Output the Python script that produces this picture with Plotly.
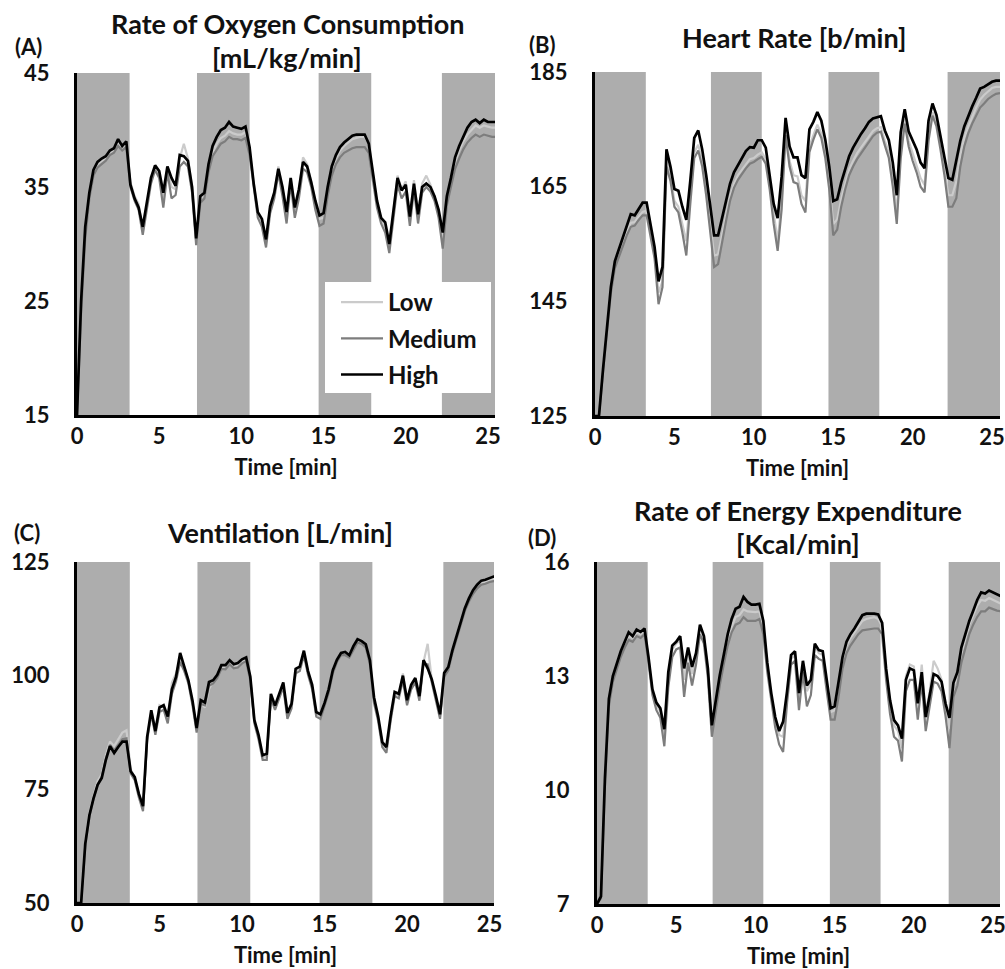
import plotly.graph_objects as go

W, H = 1005, 969

# time grid [min]
T = [i * 0.25 for i in range(103)]

# ---------------- (A) Rate of oxygen consumption [mL/kg/min]
A_HIGH = [15, 25, 31.5, 34.5, 36.5, 37.2, 37.5, 37.7,
          38.2, 38.4, 39.2, 38.6, 39.0, 35.2, 34.0, 33.2,
          31.5, 33.5, 35.8, 36.9, 36.4, 34.5, 36.8, 35.8,
          35.1, 37.8, 37.7, 37.3, 35.0, 30.5, 34.2, 34.5,
          37.0, 38.6, 39.4, 40.0, 40.2, 40.7, 40.3, 40.2,
          40.1, 40.3, 38.5, 35.3, 32.8, 32.2, 30.4, 33.3,
          34.5, 36.6, 35.0, 32.8, 35.8, 33.2, 34.8, 37.2,
          36.8, 35.4, 33.8, 32.5, 32.7, 35.0, 36.8, 37.8,
          38.5, 38.9, 39.2, 39.5, 39.6, 39.6, 39.6, 38.8,
          36.2, 33.8, 32.3, 31.9, 30.0, 33.0, 35.8, 34.7,
          35.2, 32.4, 35.3, 32.6, 35.0, 35.3, 35.0, 34.2,
          33.0, 31.0, 34.2, 35.8, 37.6, 38.6, 39.4, 40.2,
          40.7, 40.9, 40.6, 40.9, 40.7, 40.7, 40.7]
A_MED = [15, 24, 30.5, 34.0, 36.0, 36.7, 37.0, 37.3,
         37.8, 38.0, 38.6, 38.2, 38.5, 35.0, 33.8, 33.0,
         30.8, 33.0, 35.3, 36.5, 35.8, 33.2, 36.3, 34.0,
         34.3, 36.8, 37.2, 36.8, 34.5, 29.9, 33.6, 34.0,
         36.3, 37.7, 38.3, 38.8, 39.0, 39.4, 39.2, 39.2,
         39.1, 39.3, 37.8, 35.0, 32.3, 31.5, 29.7, 32.7,
         34.0, 36.2, 34.2, 31.8, 35.3, 32.3, 34.0, 36.6,
         36.3, 35.0, 33.0, 31.6, 31.8, 34.2, 36.0, 37.0,
         37.6, 38.0, 38.2, 38.4, 38.5, 38.5, 38.5, 38.0,
         35.6, 33.2, 31.8, 31.0, 29.2, 32.3, 35.2, 34.0,
         34.6, 31.6, 34.8, 31.8, 34.5, 35.0, 34.6, 33.8,
         32.3, 29.6, 33.4, 35.0, 36.6, 37.5, 38.3, 38.9,
         39.3, 39.6, 39.4, 39.6, 39.5, 39.4, 39.4]
A_LOW = [15, 24.5, 31, 34.2, 36.2, 37.0, 37.3, 37.6,
         38.0, 38.3, 38.8, 38.5, 38.8, 35.4, 34.2, 33.5,
         31.2, 33.4, 35.6, 36.8, 36.2, 34.0, 36.6, 35.0,
         34.8, 37.5, 38.8, 37.5, 35.0, 30.2, 34.0, 34.3,
         36.6, 38.0, 38.8, 39.3, 39.5, 39.9, 39.7, 39.6,
         39.6, 39.8, 38.2, 35.4, 32.6, 32.0, 30.2, 33.2,
         34.5, 36.8, 34.8, 32.4, 35.7, 33.0, 34.6, 37.6,
         37.0, 35.5, 33.6, 32.2, 32.3, 34.8, 36.5, 37.5,
         38.2, 38.6, 38.9, 39.2, 39.3, 39.4, 39.5, 38.7,
         36.0, 33.6, 32.2, 31.5, 29.6, 33.0, 36.0, 34.8,
         35.5, 32.4, 35.6, 32.6, 35.3, 36.0, 35.2, 34.2,
         32.8, 30.3, 33.8, 35.5, 37.2, 38.2, 39.0, 39.6,
         40.0, 40.4, 40.2, 40.4, 40.3, 40.2, 40.2]

# ---------------- (B) Heart rate [b/min]
B_HIGH = [125, 125, 133, 141, 147.5, 152, 154, 156,
          158.2, 160.2, 160, 161.2, 162.2, 162.2, 158.5, 154.5,
          148.5, 151, 171.5, 168.5, 164.6, 164.3, 161.5, 159.2,
          166, 173.5, 174.8, 171.5, 167, 161.5, 156.5, 156.5,
          159.5, 162.5, 165.5, 167.5, 168.8, 170.1, 171.2, 171.9,
          171.8, 173.1, 173.1, 171.8, 167, 162, 159.5, 166.7,
          177, 172, 170.1, 170.1, 167, 166.5, 175, 176.3,
          178, 176.5, 173.2, 168.5, 162.5, 162.8, 165.7, 168,
          170.3, 171.8, 173.1, 174.2, 175.2, 176.3, 176.9, 177.1,
          177.3, 174.8, 173.1, 169.2, 163.5, 174.5, 178.5, 174.6,
          173, 171.5, 169.2, 168.2, 176.5, 179.5, 177.5, 174,
          170.5, 166.5, 166.2, 169.5, 173, 175.5, 177.3, 179,
          180.5, 182.1, 182.4, 182.8, 183.3, 183.5, 183.5]
B_MED = [125, 125, 132.5, 140, 146.5, 150.8, 152.8, 154.5,
         156.5, 158, 158.2, 159.2, 160, 160, 156.5, 152.5,
         144.5, 147.5, 168.5, 166, 161.5, 160.5, 157, 153,
         162, 170, 171.3, 168.5, 163.5, 157.5, 151, 151.5,
         155.5, 159, 162.5, 164.8, 166.2, 167.3, 168.2, 169,
         169.3, 169.8, 170.2, 169, 164.5, 158.5, 153.8, 161,
         174, 168.5, 165.8, 165.5, 162, 160.5, 171, 173.2,
         175, 173.5, 170, 164.5, 156.5, 157.5, 161.5, 164.5,
         167, 168.5, 169.8, 170.8, 171.8, 172.8, 173.8, 174.4,
         174.6, 172.2, 170, 165, 158.5, 170, 176, 172,
         169.5, 167.5, 165, 164, 173, 177.4, 175.5, 171.5,
         167, 161.5, 161.5, 163, 168.5, 172, 174.3, 176,
         177.5, 178.8, 179.5, 180.3, 180.8, 181.2, 181.3]
B_LOW = [125, 125, 133, 140.5, 147, 151.3, 153.3, 155,
         157, 158.7, 158.8, 159.8, 160.6, 160.8, 157.2, 153.2,
         146.5, 148.5, 169.5, 167, 162.5, 161.5, 158.5, 155.5,
         163.5, 171, 172.3, 169.5, 164.5, 158.8, 153, 153.2,
         156.8, 160, 163.3, 165.5, 167, 168, 169, 169.8,
         170, 170.6, 171, 169.8, 165.5, 160, 155.5, 162.5,
         175, 169.5, 167, 166.8, 163.5, 162.5, 172, 174,
         175.8, 174.3, 171, 165.8, 158.5, 159.3, 162.8, 165.5,
         168, 169.5, 170.8, 171.8, 172.8, 173.8, 174.7, 175.2,
         175.4, 173, 171, 166.3, 160.5, 171.5, 176.8, 173,
         170.8, 168.8, 166.5, 165.3, 174, 178, 176.2, 172.5,
         168.3, 163.5, 163.5, 166, 170.5, 173.5, 175.5, 177.3,
         178.8, 180.2, 181, 181.6, 182.2, 182.4, 182.4]

# ---------------- (C) Ventilation [L/min]
C_HIGH = [50, 50, 63, 69.3, 73, 76, 77.5, 81.5,
          84.5, 83, 84.3, 85.5, 85.5, 79, 77.7, 74,
          71.3, 86.5, 92.4, 87.8, 93, 93.5, 91, 97,
          99.7, 105, 102, 99, 94.5, 88.5, 94.6, 94.1,
          98.6, 99, 100.2, 102.3, 102.3, 103.4, 102.5, 102.8,
          103.6, 104, 99.8, 90.2, 87, 82.5, 82.8, 96,
          93.4, 96, 98.5, 91.8, 93.8, 101.5, 102, 105.5,
          101, 98, 92, 91.5, 94, 97, 101.2, 103.5,
          105, 105.2, 104.5, 106.5, 108, 107.6, 106.9, 103.4,
          95.2, 91, 85.4, 84.3, 91, 96.4, 96, 100,
          94.6, 98, 99.5, 95.5, 103.4, 101.6, 99.2, 95.5,
          91.5, 100.6, 101.9, 105.6, 108.8, 112.2, 114.8, 117,
          118.8, 120, 120.9, 121.1, 121.5, 121.8, 121.8]
C_MED = [50, 50, 62.5, 69, 72.8, 76, 77.8, 81.8,
         84.8, 83.5, 84.8, 86, 86.2, 78.5, 77, 73.2,
         70.2, 85.8, 91.5, 87, 92, 92.5, 89.5, 96,
         98.8, 103, 101, 98.3, 93.5, 87.5, 93.8, 93.5,
         97.8, 98.3, 99.5, 101.5, 101.4, 102.5, 101.6, 101.8,
         102.7, 103.2, 99, 89.5, 86, 81.5, 81.5, 95,
         92.5, 95.2, 97.5, 90.5, 92.8, 100.5, 101, 104.5,
         100.2, 97, 91, 90.5, 93.2, 96.2, 100.5, 103,
         104.5, 104.5, 104, 105.8, 107.3, 107, 106.2, 102.5,
         94, 90, 84.3, 83, 90, 95.5, 95, 99,
         93.5, 97, 98.5, 94.5, 102.5, 102.5, 98.5, 94.8,
         90.5, 99.8, 101.2, 105, 108.2, 111.6, 114.2, 116.3,
         118, 119.2, 120, 120.2, 120.6, 120.8, 120.8]
C_LOW = [50, 50, 63.2, 69.8, 73.5, 76.8, 78.3, 82.5,
         85.5, 84.5, 86, 87.5, 88, 79.5, 77.5, 73.8,
         70.8, 86.2, 92, 88, 93.5, 93, 90.5, 98.5,
         100.5, 103.5, 102, 98.8, 94, 88, 94, 93,
         97, 98.8, 100, 101.8, 102, 103, 102.2, 102.3,
         103.2, 103.6, 99.5, 90, 86.5, 82, 82.2, 95.5,
         93, 95.6, 98, 91, 93.5, 101, 101.5, 105,
         100.8, 97.5, 91.5, 91, 94.5, 96.6, 101.5, 103.3,
         104.8, 104.8, 104.2, 106, 107.8, 107.4, 106.5, 103,
         94.8, 90.5, 85, 83.8, 90.5, 96, 95.5, 100.5,
         94, 97.5, 99.2, 95, 103, 107, 99, 95.2,
         91, 100.2, 101.5, 105.3, 108.5, 112, 114.5, 116.6,
         118.4, 119.6, 120.5, 120.7, 121.1, 121.3, 121.3]

# ---------------- (D) Rate of energy expenditure [Kcal/min]
D_HIGH = [7, 7.2, 10.3, 12.4, 13.0, 13.35, 13.65, 13.9,
          14.15, 14.05, 14.22, 14.16, 14.25, 13.5, 12.65, 12.3,
          12.15, 11.6, 13.1, 13.8, 13.9, 14.05, 13.2, 13.75,
          13.24, 13.6, 14.35, 14.05, 13.2, 11.7, 12.4, 13.02,
          13.55, 14.1, 14.5, 14.77, 14.82, 15.08, 14.95, 14.88,
          14.88, 14.9, 14.45, 13.35, 12.55, 11.92, 11.55, 11.8,
          12.6, 13.55, 13.65, 12.55, 13.4, 12.75, 12.9, 13.85,
          13.68, 13.65, 12.9, 12.15, 12.2, 12.8, 13.5, 13.9,
          14.1, 14.25, 14.42, 14.6, 14.64, 14.64, 14.64, 14.62,
          14.4, 13.2, 12.36, 11.84, 11.7, 11.35, 12.9, 13.2,
          13.15, 12.28, 13.1, 11.92, 12.5, 13.05, 13.0, 12.85,
          12.28, 11.9, 12.82, 13.1, 13.75, 14.1, 14.45, 14.72,
          15.0, 15.2, 15.17, 15.25, 15.2, 15.15, 15.1]
D_MED = [7, 7.15, 10.1, 12.2, 12.85, 13.2, 13.5, 13.75,
         13.95, 13.9, 14.05, 14.0, 14.1, 13.35, 12.5, 12.1,
         11.9, 11.15, 12.7, 13.5, 13.7, 13.75, 12.45, 13.35,
         12.75, 13.3, 14.1, 13.85, 12.95, 11.4, 12.1, 12.75,
         13.3, 13.8, 14.15, 14.35, 14.4, 14.55, 14.45, 14.45,
         14.45, 14.5, 14.1, 13.1, 12.3, 11.65, 11.2, 11.0,
         12.3, 13.3, 13.4, 12.1, 13.1, 12.2, 12.5, 13.55,
         13.45, 13.4, 12.6, 11.85, 11.85, 12.45, 13.2, 13.6,
         13.8, 13.95, 14.1, 14.2, 14.22, 14.25, 14.25, 14.25,
         14.1, 12.9, 12.0, 11.4, 11.3, 10.75, 12.6, 12.9,
         12.9, 11.85, 12.85, 11.55, 12.2, 12.85, 12.8, 12.6,
         11.95, 11.1, 12.45, 12.75, 13.35, 13.75, 14.1, 14.35,
         14.55, 14.7, 14.7, 14.8, 14.75, 14.72, 14.7]
D_LOW = [7, 7.2, 10.2, 12.3, 12.95, 13.3, 13.6, 13.85,
         14.05, 14.0, 14.15, 14.1, 14.2, 13.45, 12.6, 12.25,
         12.05, 11.45, 12.9, 13.7, 13.85, 13.95, 12.9, 13.6,
         13.05, 13.5, 14.3, 14.0, 13.1, 11.6, 12.3, 12.9,
         13.45, 13.95, 14.3, 14.55, 14.6, 14.75, 14.7, 14.68,
         14.68, 14.7, 14.3, 13.25, 12.45, 11.85, 11.45, 11.4,
         12.5, 13.45, 13.55, 12.4, 13.3, 12.6, 12.8, 13.8,
         13.6, 13.55, 12.8, 12.05, 12.1, 12.7, 13.4, 13.8,
         14.0, 14.15, 14.3, 14.45, 14.5, 14.52, 14.55, 14.5,
         14.3, 13.1, 12.25, 11.7, 11.55, 11.1, 13.0, 13.3,
         13.25, 12.3, 13.3, 12.0, 12.6, 13.4, 13.2, 12.9,
         12.2, 11.6, 12.7, 13.0, 13.6, 14.0, 14.35, 14.6,
         14.85, 15.0, 14.98, 15.05, 15.0, 14.95, 14.9]

SERIES = ["Low", "Medium", "High"]
X_TICKS = [0, 5, 10, 15, 20, 25]
BAND_START = [0, 7.3, 14.7, 22.2]
BAND_END = [3.2, 10.5, 17.9, 25.6]

COLORS = {"Low": "#cbcbcb", "Medium": "#7d7d7d", "High": "#000000"}
WIDTHS = {"Low": 2.2, "Medium": 2.2, "High": 2.7}
BAND_COLOR = "#adadad"
FONT = "Lato"
TXT = "#111111"

PANELS = [
    dict(data=(A_LOW, A_MED, A_HIGH), yticks=[15, 25, 35, 45], yr=[15, 45],
         xpx=(77, 495), ypx=(73, 415), xmax=25.43),
    dict(data=(B_LOW, B_MED, B_HIGH), yticks=[125, 145, 165, 185], yr=[125, 185],
         xpx=(595, 1000), ypx=(72, 416), xmax=25.5),
    dict(data=(C_LOW, C_MED, C_HIGH), yticks=[50, 75, 100, 125], yr=[50, 125],
         xpx=(77, 494), ypx=(562, 903), xmax=25.27),
    dict(data=(D_LOW, D_MED, D_HIGH), yticks=[7, 10, 13, 16], yr=[7, 16],
         xpx=(597, 1000), ypx=(562, 904), xmax=25.44),
]

for p in PANELS:
    for s in p["data"]:
        assert len(s) == len(T), len(s)


def px_x(v):
    return v / W


def px_y(v):
    return 1 - v / H


def bold(size):
    return dict(family=FONT, size=size, color=TXT, weight="bold")


fig = go.Figure()
shapes = []
layout = {}
for i, p in enumerate(PANELS):
    n = "" if i == 0 else str(i + 1)
    xa, ya = "x" + n, "y" + n
    for name, vals in zip(SERIES, p["data"]):
        fig.add_trace(go.Scatter(
            x=T, y=vals, mode="lines", name=name, xaxis=xa, yaxis=ya,
            line=dict(color=COLORS[name], width=WIDTHS[name]),
            showlegend=(i == 0), legendgroup=name, hoverinfo="skip"))
    for b0, b1 in zip(BAND_START, BAND_END):
        shapes.append(dict(type="rect", xref=xa, yref=ya + " domain",
                           x0=b0, x1=b1, y0=0, y1=1, fillcolor=BAND_COLOR,
                           line=dict(width=0), layer="below"))
    layout["xaxis" + n] = dict(
        domain=[px_x(p["xpx"][0]), px_x(p["xpx"][1])], range=[0, p["xmax"]],
        anchor=ya, tickvals=X_TICKS, showgrid=False, zeroline=False,
        automargin=False, ticklabeloverflow="allow",
        showline=True, linecolor="black", linewidth=3,
        ticks="", tickfont=bold(22),
        title=dict(text="Time [min]", standoff=12, font=bold(22)))
    layout["yaxis" + n] = dict(
        domain=[px_y(p["ypx"][1]), px_y(p["ypx"][0])], range=p["yr"],
        anchor=xa, tickvals=p["yticks"], showgrid=False, zeroline=False,
        automargin=False, ticklabeloverflow="allow",
        showline=True, linecolor="black", linewidth=3,
        ticks="outside", ticklen=20, tickcolor="rgba(0,0,0,0)",
        tickfont=bold(22))

# white legend box
shapes.append(dict(type="rect", xref="paper", yref="paper",
                   x0=px_x(325), x1=px_x(491), y0=px_y(393), y1=px_y(282),
                   fillcolor="white", line=dict(width=0), layer="above"))

TITLES = [
    ("Rate of Oxygen Consumption", 287, 23),
    ("[mL/kg/min]", 287, 58),
    ("Heart Rate [b/min]", 794, 37),
    ("Ventilation [L/min]", 280, 532),
    ("Rate of Energy Expenditure", 798, 510),
    ("[Kcal/min]", 798, 543),
]
LETTERS = [("(A)", 28, 47), ("(B)", 542, 45), ("(C)", 27, 532), ("(D)", 542, 537)]

annotations = []
for txt, x, y in TITLES:
    annotations.append(dict(text=txt, x=px_x(x), y=px_y(y), xref="paper", yref="paper",
                            xanchor="center", yanchor="middle", showarrow=False,
                            font=bold(27)))
for txt, x, y in LETTERS:
    annotations.append(dict(text=txt, x=px_x(x), y=px_y(y), xref="paper", yref="paper",
                            xanchor="center", yanchor="middle", showarrow=False,
                            font=bold(22)))

fig.update_layout(
    template="none",
    width=W, height=H, margin=dict(l=0, r=0, t=0, b=0, pad=0, autoexpand=False),
    paper_bgcolor="white", plot_bgcolor="white",
    font=dict(family=FONT, size=22, color=TXT),
    shapes=shapes, annotations=annotations, hovermode=False,
    legend=dict(x=px_x(336), y=px_y(280), xanchor="left", yanchor="top",
                bgcolor="rgba(0,0,0,0)", borderwidth=0, tracegroupgap=2,
                itemwidth=42, font=bold(24)),
    **layout)

fig.write_html("out.html",
               config={"displayModeBar": False},
               post_script="document.body.style.margin='0';"
                           "document.body.style.overflow='hidden';")
